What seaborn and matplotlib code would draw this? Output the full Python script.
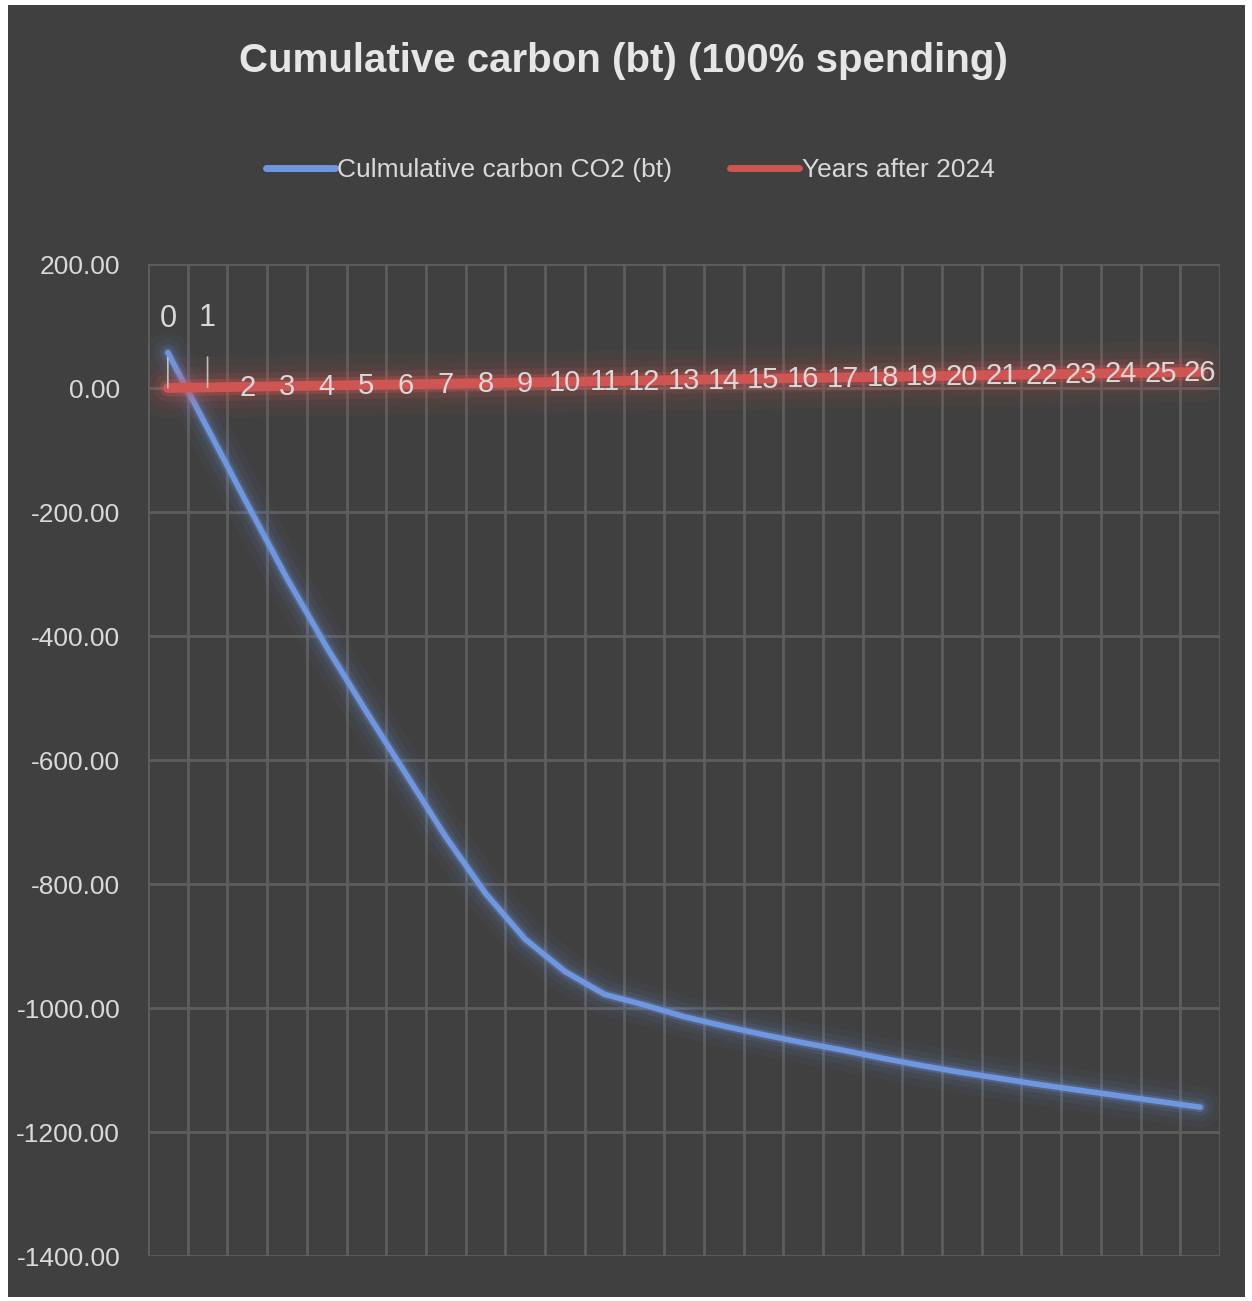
import numpy as np
import pandas as pd
import matplotlib
matplotlib.use("Agg")
import matplotlib.pyplot as plt
import matplotlib.patheffects as pe
from matplotlib.patches import Rectangle
import seaborn as sns

# --- Data ---
years_after = list(range(0, 27))
cumulative_co2 = [57, -65, -187, -307, -418, -522, -623, -724, -815, -889,
                  -941, -978, -995, -1014, -1029, -1043, -1056, -1068, -1081,
                  -1093, -1104, -1114, -1124, -1133, -1142, -1151, -1160]
year_labels = [str(y) for y in years_after]

title = "Cumulative carbon (bt) (100% spending)"
blue_name = "Culmulative carbon CO2 (bt)"
red_name = "Years after 2024"

BG = "#404040"
GRID = "#5e5e5e"
TXT = "#d9d9d9"
BLUE = "#6f97e0"
RED = "#cf5553"

df = pd.DataFrame({"idx": years_after, "co2": cumulative_co2, "years": years_after})

sns.set_style("dark")
plt.rcParams["font.family"] = ["Liberation Sans", "DejaVu Sans"]

fig = plt.figure(figsize=(12.52, 13.01), dpi=100)
fig.patch.set_facecolor("white")
fig.patches.append(Rectangle((8 / 1252, 4 / 1301), 1237 / 1252, 1292 / 1301,
                             transform=fig.transFigure, facecolor=BG,
                             edgecolor="none", zorder=-10))

ax = fig.add_axes([148 / 1252, 45 / 1301, 1072 / 1252, 992 / 1301])
ax.set_facecolor(BG)

sns.lineplot(data=df, x="idx", y="co2", ax=ax, color=BLUE, lw=4,
             label=blue_name, zorder=3)
sns.lineplot(data=df, x="idx", y="years", ax=ax, color=RED, lw=7,
             label=red_name, zorder=4)

# soft glow around both lines
ax.lines[0].set_path_effects([
    pe.Stroke(linewidth=30, foreground=BLUE, alpha=0.04),
    pe.Stroke(linewidth=20, foreground=BLUE, alpha=0.07),
    pe.Stroke(linewidth=12, foreground=BLUE, alpha=0.12),
    pe.Stroke(linewidth=7, foreground=BLUE, alpha=0.25),
    pe.Normal()])
ax.lines[1].set_path_effects([
    pe.Stroke(linewidth=44, foreground=RED, alpha=0.05),
    pe.Stroke(linewidth=30, foreground=RED, alpha=0.08),
    pe.Stroke(linewidth=20, foreground=RED, alpha=0.14),
    pe.Stroke(linewidth=12, foreground=RED, alpha=0.3),
    pe.Normal()])

# data labels for the years series
for i, lab in zip(years_after, year_labels):
    y = years_after[i]
    if i < 2:
        ax.annotate(lab, xy=(i, y), xytext=(i, y + 112), ha="center",
                    va="center", fontsize=22, color=TXT, zorder=6,
                    arrowprops=dict(arrowstyle="-", color="#bfbfbf", lw=1.2,
                                    shrinkA=15, shrinkB=0))
    else:
        ax.text(i, y - 2, lab, ha="center", va="center", fontsize=21,
                color=TXT, zorder=6)

ax.set_xlim(-0.5, 26.5)
ax.set_ylim(-1400, 200)
ax.set_xticks(np.arange(-0.5, 27, 1))
ax.set_xticklabels([])
ax.set_yticks(np.arange(-1400, 201, 200))
ax.set_yticklabels([f"{v:.2f}" for v in np.arange(-1400, 201, 200)])
ax.tick_params(axis="both", length=0, colors=TXT, labelsize=19, pad=20)
ax.grid(True, color=GRID, lw=2)
ax.set_xlabel("")
ax.set_ylabel("")
for s in ax.spines.values():
    s.set_visible(False)

leg = ax.legend(loc="center", bbox_to_anchor=(0.45, 1.095), ncol=2,
                frameon=False, fontsize=19, handlelength=2.6,
                handletextpad=0.1, columnspacing=2.2, labelcolor=TXT)
for h in leg.get_lines():
    h.set_linewidth(5)
    h.set_path_effects([])

fig.text(0.498, 0.953, title, ha="center", va="center", fontsize=29,
         fontweight="bold", color="#e6e6e6")

fig.savefig("out.png", dpi=100, facecolor=fig.get_facecolor())
